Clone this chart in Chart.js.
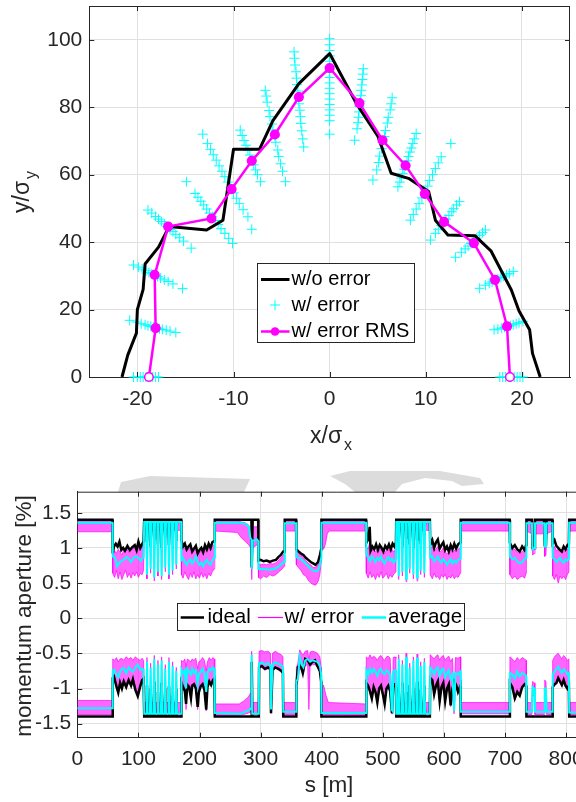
<!DOCTYPE html>
<html>
<head>
<meta charset="utf-8">
<script src="https://cdn.jsdelivr.net/npm/chart.js@4.4.0/dist/chart.umd.min.js"></script>
<style>
  html, body { margin: 0; padding: 0; background: #fff; overflow: hidden; width: 576px; height: 802px; }
  #top { position: absolute; left: 0; top: 0; }
  #bot { position: absolute; left: 0; top: 440px; }
</style>
</head>
<body>
<canvas id="top" width="576" height="460"></canvas>
<canvas id="bot" width="598" height="362"></canvas>
<script>
// ---------- top plot: dynamic aperture ----------
const xTicksTop = [-20, -10, 0, 10, 20];
const yTicksTop = [0, 20, 40, 60, 80, 100];

// w/o error (black)
const daX = [-21.6, -21.0, -20.1, -20.0, -19.4, -19.2, -17.8, -16.7, -12.8, -11.1, -10.0, -7.3, -5.9, -3.2, 0, 2.8, 5.0, 6.4, 8.2, 9.5, 10.3, 11.0, 12.3, 15.1, 16.8, 18.0, 18.9, 19.7, 20.8, 21.1, 21.9];
const daY = [0, 6.5, 13, 20, 26, 33.5, 38.5, 44.6, 43.6, 46.5, 67.5, 67.5, 76, 87, 95.9, 81, 71.5, 60.4, 58.9, 56.5, 55, 46.5, 42.1, 41.9, 37.3, 30.7, 25.8, 19.6, 14, 7, 0];

// w/ error RMS (magenta)
const rmsX = [-18.8, -18.1, -18.2, -16.8, -12.3, -10.2, -8.1, -5.7, -3.2, 0, 3.1, 5.5, 7.9, 9.9, 11.9, 15.0, 17.2, 18.45, 18.75];
const rmsY = [0, 14.5, 30.3, 44.6, 47, 55.7, 64.1, 71.9, 83, 91.6, 81.2, 70.2, 62.7, 54.3, 46, 39.7, 28.8, 15, 0];

// w/ error seeds (cyan +), one line per ray
const errPts = [
  [-20.4,0],[-20.0,0],[-19.7,0],[-19.4,0],[-19.1,0],[-18.9,0],[-18.6,0],[-18.4,0],[-18.1,0],[-17.8,0],
  [-20.8,16.8],[-20.1,16.3],[-19.6,15.8],[-19.2,15.5],[-18.9,15.2],[-18.6,15.0],[-18.3,14.8],[-18.0,14.6],[-17.7,14.3],[-17.4,14.1],[-17.0,13.9],[-16.6,13.6],[-16.0,13.2],
  [-20.4,33.2],[-19.9,32.6],[-19.5,32.0],[-19.1,31.5],[-18.8,31.0],[-18.5,30.6],[-18.2,30.2],[-17.9,29.8],[-17.6,29.3],[-17.2,28.8],[-16.8,28.3],[-16.3,27.6],[-15.3,26.2],
  [-18.9,49.5],[-18.5,48.6],[-18.1,47.6],[-17.8,46.8],[-17.5,46.1],[-17.2,45.4],[-16.9,44.6],[-16.6,43.8],[-16.3,43.1],[-16.0,42.3],[-15.6,41.3],[-15.2,40.3],[-14.4,38.2],
  [-14.9,57.9],[-14.0,54.4],[-13.7,53.3],[-13.4,52.1],[-13.1,51.0],[-12.8,49.8],[-12.5,48.6],[-12.2,47.5],[-11.9,46.4],[-11.6,45.2],[-11.3,44.0],[-10.9,42.6],[-10.5,41.1],[-10.1,39.6],
  [-13.2,72.0],[-12.7,69.2],[-12.4,67.5],[-12.1,65.9],[-11.8,64.3],[-11.5,62.6],[-11.2,61.0],[-10.9,59.4],[-10.6,57.8],[-10.3,56.2],[-10.0,54.6],[-9.7,53.0],[-9.4,51.4],[-9.0,49.6],[-8.5,47.5],[-8.1,43.8],
  [-9.3,73.2],[-9.1,71.6],[-8.9,70.1],[-8.7,68.7],[-8.5,67.2],[-8.3,65.8],[-8.1,64.3],[-7.9,62.9],[-7.7,61.4],[-7.5,60.0],[-7.2,57.9],
  [-6.7,85.0],[-6.6,83.3],[-6.5,81.5],[-6.3,79.0],[-6.2,77.2],[-6.0,75.0],[-5.9,73.2],[-5.7,71.5],[-5.6,69.6],[-5.4,67.3],[-5.3,65.4],[-5.1,63.2],[-4.9,61.0],[-4.6,57.9],
  [-3.7,96.4],[-3.65,94.5],[-3.6,92.5],[-3.5,90.5],[-3.45,88.6],[-3.4,86.7],[-3.3,84.8],[-3.25,82.9],[-3.2,81.0],[-3.1,79.1],[-3.05,77.2],[-3.0,75.2],[-2.9,73.0],[-2.8,70.6],[-2.7,68.2],
  [0,100.3],[0,98.5],[0,96.8],[0,95.2],[0,93.6],[0,92.0],[0,90.4],[0,88.8],[0,87.2],[0,85.6],[0,84.0],[0,82.4],[0,80.8],[0,79.2],[0,77.6],[0,76.0],[0,72.0],
  [3.5,91.4],[3.45,89.8],[3.4,88.2],[3.35,86.6],[3.3,85.0],[3.25,83.4],[3.2,81.8],[3.1,80.2],[3.05,78.6],[3.0,77.0],[2.95,75.4],[2.85,73.6],[2.6,70.2],
  [6.5,82.8],[6.4,81.0],[6.3,79.2],[6.1,77.0],[6.0,75.3],[5.8,73.1],[5.7,71.3],[5.5,69.6],[5.4,67.7],[5.2,65.5],[5.1,63.6],[4.9,61.4],[4.5,58.4],
  [9.0,72.2],[8.8,70.6],[8.65,69.2],[8.5,67.9],[8.35,66.7],[8.2,65.4],[8.05,64.1],[7.9,62.8],[7.75,61.6],[7.6,60.3],[7.45,59.0],[7.3,57.8],[7.1,56.4],
  [12.6,69.2],[11.6,65.3],[11.3,63.5],[11.0,61.8],[10.7,60.0],[10.4,58.3],[10.2,56.6],[9.9,54.9],[9.6,53.1],[9.3,51.4],[9.0,49.8],[8.7,48.2],[8.4,46.5],
  [13.5,52.0],[13.2,51.0],[12.9,49.9],[12.7,49.0],[12.4,47.9],[12.1,46.8],[11.9,46.0],[11.6,44.9],[11.3,43.8],[11.0,42.6],[10.5,40.6],
  [16.2,43.6],[15.9,42.8],[15.6,42.0],[15.3,41.2],[15.0,40.4],[14.7,39.6],[14.4,38.8],[14.1,38.0],[13.7,37.0],[13.1,35.5],
  [19.1,31.3],[18.7,30.7],[18.4,30.3],[18.1,29.9],[17.8,29.5],[17.5,29.1],[17.2,28.7],[16.9,28.2],[16.6,27.8],[16.2,27.2],[15.6,26.3],
  [20.1,16.5],[19.7,16.1],[19.4,15.8],[19.1,15.5],[18.8,15.2],[18.5,15.0],[18.2,14.7],[17.9,14.5],[17.5,14.2],[17.1,14.0],
  [17.7,0],[18.0,0],[18.3,0],[18.6,0],[18.9,0],[19.2,0],[19.5,0],[19.8,0],[20.1,0]
];

// ---------- bottom plot: momentum aperture ----------
const sTicks = [0, 100, 200, 300, 400, 500, 600, 700, 800];
const maTicks = [-1.5, -1, -0.5, 0, 0.5, 1, 1.5];

// ideal, positive side [s, %]
const idealPos = [
  [0,1.40],[57.5,1.40],
  [58,0.92],[60,1.02],[63,1.06],[66,1.02],[69,1.09],[72,0.97],[75,1.0],[78,0.96],[82,1.03],[86,0.97],[90,1.01],[94,1.04],[97,0.97],[100,1.09],[103,1.0],[106,1.05],[108.5,1.10],
  [109.5,1.40],[112.8,1.40],[114,1.08],[115.2,1.40],[118.8,1.40],[120,1.02],[121.2,1.40],[124.8,1.40],[126,1.12],[127.2,1.40],[130.8,1.40],[132,1.05],[133.2,1.40],[136.8,1.40],[138,1.00],[139.2,1.40],[142.8,1.40],[144,1.15],[145.2,1.40],[148.8,1.40],[150,1.04],[151.2,1.40],[154.8,1.40],[156,1.20],[157.2,1.40],[160.8,1.40],[162,1.10],[163.2,1.40],[170,1.40],
  [170.5,1.11],[173,1.02],[176,1.06],[179,0.98],[182,1.02],[185,1.05],[188,0.95],[191,0.99],[194,1.03],[197,0.92],[200,0.97],[203,1.0],[206,0.94],[209,1.04],[212,0.98],[215,1.06],[218,1.0],[221,1.08],[224,1.10],
  [225,1.40],[285,1.40],[285.5,0.72],[287,1.40],[296,1.40],
  [296.5,0.82],[300,0.83],[305,0.81],[310,0.82],[315,0.80],[320,0.82],[325,0.83],[329,0.87],[333,0.90],[337,0.95],[339,0.95],
  [339.5,1.40],[358,1.40],
  [358.5,0.98],[362,0.95],[366,0.92],[370,0.9],[374,0.86],[378,0.83],[382,0.8],[386,0.78],[390,0.76],[394,0.8],[397,0.9],[399,0.98],
  [399.5,1.40],[472.5,1.40],
  [473,1.07],[476,1.12],[478.5,1.30],[480,0.96],[483,1.02],[486,0.98],[489,1.05],[492,0.97],[495,1.04],[498,1.0],[501,0.95],[504,1.03],[507,0.99],[510,1.05],[513,0.98],[516,1.06],[519,1.02],[521.5,1.08],
  [522,1.40],[524.8,1.40],[526,1.10],[527.2,1.40],[530.8,1.40],[532,1.02],[533.2,1.40],[536.8,1.40],[538,1.15],[539.2,1.40],[542.8,1.40],[544,1.05],[545.2,1.40],[548.8,1.40],[550,1.00],[551.2,1.40],[554.8,1.40],[556,1.12],[557.2,1.40],[560.8,1.40],[562,1.06],[563.2,1.40],[566.8,1.40],[568,1.18],[569.2,1.40],[577,1.40],
  [577.5,1.04],[581,1.11],[584,1.0],[587,1.08],[590,1.12],[593,0.99],[596,1.04],[599,1.08],[602,0.97],[605,1.02],[608,0.95],[611,1.04],[614,0.98],[617,1.06],[620,0.99],[623,1.05],[627,1.08],
  [627.5,1.40],[707.5,1.40],
  [708,1.07],[712,1.0],[716,1.04],[720,0.98],[724,0.95],[728,1.02],[732,0.97],[734.5,1.04],
  [735,1.40],[744,1.40],[745,1.0],[748,1.0],[749,1.40],[764,1.40],[765,1.04],[767,1.04],[768,1.40],[777.5,1.40],
  [778,1.07],[781,1.11],[784,1.03],[787,1.0],[790,0.97],[793,0.95],[796,1.02],[799,0.98],[802,1.04],[804.5,1.06],
  [805,1.40],[851,1.40]
];

// average, positive side
const avgPos = [
  [0,1.36],[57.5,1.36],
  [58,0.88],[62,0.86],[65,0.74],[68,0.78],[72,0.82],[76,0.83],[80,0.87],[84,0.85],[88,0.80],[92,0.86],[96,0.88],[100,0.86],[104,0.82],[108.5,0.87],
  [109.5,1.37],[112.8,1.37],[114,0.62],[115.2,1.37],[118.8,1.37],[120,0.70],[121.2,1.37],[124.8,1.37],[126,0.58],[127.2,1.37],[130.8,1.37],[132,0.66],[133.2,1.37],[136.8,1.37],[138,0.60],[139.2,1.37],[142.8,1.37],[144,0.72],[145.2,1.37],[148.8,1.37],[150,0.62],[151.2,1.37],[154.8,1.37],[156,0.68],[157.2,1.37],[160.8,1.37],[162,0.76],[163.2,1.37],[170,1.37],
  [170.5,0.83],[173,0.86],[176,0.80],[179,0.76],[182,0.81],[185,0.84],[188,0.78],[191,0.82],[194,0.88],[197,0.80],[200,0.76],[203,0.79],[206,0.74],[209,0.80],[212,0.83],[215,0.78],[218,0.76],[221,0.82],[224,0.86],
  [225,1.36],[265,1.36],[275,1.34],[281,1.30],[283,1.15],[285,1.12],[285.7,0.70],[287,1.10],[294,1.12],[296,1.10],
  [296.5,0.70],[305,0.70],[315,0.69],[325,0.71],[330,0.74],[335,0.78],[339,0.80],
  [339.5,1.35],[358,1.35],
  [358.5,0.87],[364,0.85],[370,0.81],[376,0.76],[382,0.70],[388,0.67],[393,0.67],[396,0.72],[398,0.80],[399,0.85],
  [399.5,1.36],[472.5,1.36],
  [473,0.91],[476,0.86],[479,0.81],[482,0.88],[485,0.85],[488,0.80],[491,0.86],[494,0.83],[497,0.88],[500,0.81],[503,0.78],[506,0.84],[509,0.87],[512,0.82],[515,0.85],[518,0.79],[521.5,0.84],
  [522,1.37],[524.8,1.37],[526,0.60],[527.2,1.37],[530.8,1.37],[532,0.66],[533.2,1.37],[536.8,1.37],[538,0.56],[539.2,1.37],[542.8,1.37],[544,0.70],[545.2,1.37],[548.8,1.37],[550,0.62],[551.2,1.37],[554.8,1.37],[556,0.58],[557.2,1.37],[560.8,1.37],[562,0.68],[563.2,1.37],[566.8,1.37],[568,0.64],[569.2,1.37],[577,1.37],
  [577.5,0.86],[581,0.88],[584,0.81],[587,0.84],[590,0.88],[593,0.82],[596,0.79],[599,0.84],[602,0.81],[605,0.76],[608,0.80],[611,0.84],[614,0.78],[617,0.82],[620,0.79],[623,0.83],[627,0.85],
  [627.5,1.36],[707.5,1.36],
  [708,0.88],[712,0.84],[716,0.86],[720,0.81],[724,0.78],[728,0.80],[732,0.84],[734.5,0.86],
  [735,1.35],[744,1.35],[745,0.98],[748,1.0],[749,1.35],[764,1.35],[765,1.02],[767,1.02],[768,1.35],[777.5,1.35],
  [778,0.86],[781,0.84],[784,0.80],[787,0.83],[790,0.86],[793,0.81],[796,0.79],[799,0.84],[802,0.82],[804.5,0.85],
  [805,1.36],[851,1.36]
];

// w/ error seeds, positive side: [s, upper, lower]
const errPos = [
  [0,1.385,1.23],[57.5,1.385,1.23],
  [58,0.90,0.64],[61,0.96,0.58],[64,0.92,0.68],[67,0.98,0.56],[70,0.94,0.66],[73,0.90,0.55],[76,0.97,0.62],[79,0.95,0.68],[82,0.98,0.58],[85,0.93,0.64],[88,0.96,0.57],[91,0.99,0.65],[94,1.0,0.60],[97,0.94,0.66],[100,1.02,0.58],[103,0.96,0.64],[106,1.0,0.62],[108.5,1.05,0.68],
  [109.5,1.385,1.25],[112.8,1.385,1.25],[114,1.0,0.56],[115.2,1.385,1.25],[118.8,1.385,1.25],[120,0.95,0.64],[121.2,1.385,1.25],[124.8,1.385,1.25],[126,1.05,0.53],[127.2,1.385,1.25],[130.8,1.385,1.25],[132,0.98,0.60],[133.2,1.385,1.25],[136.8,1.385,1.25],[138,0.94,0.55],[139.2,1.385,1.25],[142.8,1.385,1.25],[144,1.08,0.66],[145.2,1.385,1.25],[148.8,1.385,1.25],[150,0.97,0.56],[151.2,1.385,1.25],[154.8,1.385,1.25],[156,1.12,0.62],[157.2,1.385,1.25],[160.8,1.385,1.25],[162,1.03,0.70],[163.2,1.385,1.25],[170,1.385,1.25],
  [170.5,1.05,0.62],[173,0.98,0.57],[176,1.0,0.66],[179,0.95,0.60],[182,0.98,0.55],[185,1.0,0.64],[188,0.92,0.58],[191,0.96,0.66],[194,0.99,0.56],[197,0.9,0.62],[200,0.94,0.57],[203,0.97,0.65],[206,0.9,0.58],[209,0.99,0.63],[212,0.95,0.56],[215,1.0,0.64],[218,0.96,0.60],[221,1.02,0.66],[224,1.05,0.70],
  [225,1.385,1.24],[262,1.385,1.22],[268,1.37,1.15],[274,1.36,1.10],[280,1.33,1.05],[284,1.25,1.0],[285.5,1.0,0.55],[287,1.3,1.0],[295,1.3,1.05],[296,1.2,0.9],
  [296.5,0.78,0.58],[300,0.76,0.56],[305,0.77,0.60],[310,0.76,0.58],[315,0.78,0.62],[320,0.77,0.60],[325,0.79,0.62],[330,0.83,0.66],[335,0.88,0.70],[339,0.92,0.74],
  [339.5,1.385,1.24],[358,1.385,1.24],
  [358.5,0.95,0.76],[362,0.92,0.72],[366,0.9,0.68],[370,0.86,0.62],[374,0.82,0.60],[378,0.78,0.54],[382,0.76,0.50],[386,0.72,0.48],[390,0.72,0.47],[394,0.76,0.52],[397,0.85,0.62],[399,0.95,0.8],
  [399.5,1.385,1.1],[403,1.385,0.98],[406,1.385,1.05],[409,1.385,1.2],[412,1.385,1.24],[472.5,1.385,1.24],
  [473,1.02,0.64],[476,0.98,0.57],[479,1.1,0.66],[482,0.96,0.58],[485,0.98,0.62],[488,0.94,0.55],[491,0.98,0.63],[494,0.96,0.58],[497,1.0,0.66],[500,0.93,0.57],[503,0.92,0.60],[506,0.97,0.64],[509,1.0,0.56],[512,0.95,0.62],[515,0.98,0.58],[518,0.94,0.63],[521.5,1.0,0.66],
  [522,1.385,1.25],[524.8,1.385,1.25],[526,1.02,0.55],[527.2,1.385,1.25],[530.8,1.385,1.25],[532,0.96,0.60],[533.2,1.385,1.25],[536.8,1.385,1.25],[538,1.08,0.52],[539.2,1.385,1.25],[542.8,1.385,1.25],[544,0.98,0.64],[545.2,1.385,1.25],[548.8,1.385,1.25],[550,0.94,0.56],[551.2,1.385,1.25],[554.8,1.385,1.25],[556,1.05,0.53],[557.2,1.385,1.25],[560.8,1.385,1.25],[562,0.99,0.62],[563.2,1.385,1.25],[566.8,1.385,1.25],[568,1.10,0.58],[569.2,1.385,1.25],[577,1.385,1.25],
  [577.5,1.0,0.62],[581,1.02,0.56],[584,0.96,0.64],[587,0.98,0.58],[590,1.02,0.60],[593,0.94,0.55],[596,0.96,0.62],[599,1.0,0.58],[602,0.94,0.63],[605,0.92,0.55],[608,0.94,0.60],[611,0.98,0.57],[614,0.93,0.62],[617,0.97,0.56],[620,0.94,0.6],[623,0.98,0.58],[627,1.0,0.64],
  [627.5,1.385,1.24],[707.5,1.385,1.24],
  [708,1.0,0.62],[712,0.97,0.56],[716,0.98,0.6],[720,0.94,0.55],[724,0.92,0.58],[728,0.95,0.6],[732,0.97,0.57],[734.5,1.0,0.64],
  [735,1.385,1.24],[744,1.385,1.2],[745,1.0,0.9],[748,1.0,0.92],[749,1.385,1.2],[764,1.385,1.2],[765,1.0,0.88],[767,1.0,0.9],[768,1.385,1.2],[777.5,1.385,1.24],
  [778,1.0,0.6],[781,1.02,0.55],[784,0.96,0.62],[787,0.98,0.5],[790,0.96,0.6],[793,0.92,0.56],[796,0.95,0.6],[799,0.97,0.55],[802,0.98,0.62],[804.5,1.0,0.66],
  [805,1.385,1.24],[851,1.385,1.24]
];

// ideal, negative side
const idealNeg = [
  [0,-1.40],[57.5,-1.40],
  [58,-0.85],[60,-0.83],[64,-0.97],[67,-1.06],[70,-0.92],[73,-1.0],[76,-0.90],[80,-0.98],[84,-0.88],[88,-0.96],[91,-0.87],[95,-1.02],[99,-1.11],[103,-0.97],[106,-0.88],[108.5,-0.86],
  [109.5,-1.40],[112.8,-1.40],[114,-0.95],[115.2,-1.40],[118.8,-1.40],[120,-1.00],[121.2,-1.40],[124.8,-1.40],[126,-0.90],[127.2,-1.40],[130.8,-1.40],[132,-1.05],[133.2,-1.40],[136.8,-1.40],[138,-0.92],[139.2,-1.40],[142.8,-1.40],[144,-1.00],[145.2,-1.40],[148.8,-1.40],[150,-0.96],[151.2,-1.40],[154.8,-1.40],[156,-1.10],[157.2,-1.40],[160.8,-1.40],[162,-1.00],[163.2,-1.40],[170,-1.40],
  [170.5,-0.92],[173,-0.98],[176,-1.04],[178,-1.22],[180,-0.95],[183,-0.98],[186,-1.14],[188,-0.96],[191,-0.94],[194,-1.0],[197,-1.26],[199,-1.05],[202,-0.97],[205,-0.94],[208,-1.02],[211,-1.3],[213,-0.98],[216,-0.90],[219,-0.95],[222,-0.88],[224,-0.86],
  [225,-1.40],[285,-1.40],[285.5,-0.62],[286.5,-1.40],[297,-1.40],
  [297.5,-0.70],[302,-0.68],[307,-0.72],[312,-0.70],[316,-0.72],[317,-1.35],[318.5,-1.35],[319.5,-0.74],[324,-0.70],[329,-0.72],[334,-0.75],[336.5,-0.78],
  [337,-1.40],[358,-1.40],
  [358.5,-0.95],[361,-0.70],[365,-0.65],[369,-0.78],[373,-0.58],[377,-0.60],[381,-0.66],[385,-0.62],[389,-0.60],[393,-0.68],[397,-0.75],[399,-0.9],
  [399.5,-1.40],[472.5,-1.40],
  [473,-0.92],[476,-0.96],[479,-1.04],[482,-1.14],[485,-0.98],[488,-1.05],[491,-1.2],[494,-1.0],[497,-0.96],[500,-1.08],[503,-1.22],[506,-1.0],[509,-0.96],[512,-1.04],[515,-1.35],[517,-0.98],[520,-0.94],[521.5,-0.92],
  [522,-1.40],[524.8,-1.40],[526,-0.98],[527.2,-1.40],[530.8,-1.40],[532,-0.92],[533.2,-1.40],[536.8,-1.40],[538,-1.05],[539.2,-1.40],[542.8,-1.40],[544,-0.95],[545.2,-1.40],[548.8,-1.40],[550,-1.00],[551.2,-1.40],[554.8,-1.40],[556,-0.90],[557.2,-1.40],[560.8,-1.40],[562,-1.02],[563.2,-1.40],[566.8,-1.40],[568,-0.96],[569.2,-1.40],[577,-1.40],
  [577.5,-0.85],[581,-0.88],[584,-1.08],[587,-0.96],[590,-0.9],[593,-1.18],[596,-0.98],[599,-0.92],[602,-1.18],[605,-1.0],[608,-0.94],[611,-1.24],[614,-1.0],[617,-0.9],[620,-0.95],[623,-1.05],[627,-0.96],
  [627.5,-1.40],[707.5,-1.40],
  [708,-0.92],[712,-0.98],[716,-1.14],[720,-1.05],[724,-1.1],[728,-0.98],[732,-0.94],[734.5,-0.96],
  [735,-1.40],[777.5,-1.40],
  [778,-0.98],[781,-0.94],[784,-0.92],[787,-0.85],[790,-0.9],[793,-0.95],[796,-0.88],[799,-0.96],[802,-1.0],[804.5,-0.96],
  [805,-1.40],[851,-1.40]
];

// average, negative side
const avgNeg = [
  [0,-1.28],[57.5,-1.28],
  [58,-0.74],[60,-0.73],[64,-0.80],[67,-0.84],[70,-0.76],[73,-0.72],[76,-0.71],[80,-0.78],[84,-0.70],[88,-0.74],[91,-0.76],[95,-0.70],[99,-0.66],[103,-0.74],[106,-0.72],[108.5,-0.73],
  [109.5,-1.36],[112.8,-1.36],[114,-0.62],[115.2,-1.36],[118.8,-1.36],[120,-0.70],[121.2,-1.36],[124.8,-1.36],[126,-0.58],[127.2,-1.36],[130.8,-1.36],[132,-0.66],[133.2,-1.36],[136.8,-1.36],[138,-0.60],[139.2,-1.36],[142.8,-1.36],[144,-0.72],[145.2,-1.36],[148.8,-1.36],[150,-0.62],[151.2,-1.36],[154.8,-1.36],[156,-0.68],[157.2,-1.36],[160.8,-1.36],[162,-0.75],[163.2,-1.36],[170,-1.36],
  [170.5,-0.73],[173,-0.78],[176,-0.74],[178,-1.0],[180,-0.72],[183,-0.76],[186,-0.80],[188,-0.72],[191,-0.78],[194,-0.74],[197,-0.95],[199,-0.80],[202,-0.76],[205,-0.72],[208,-0.79],[211,-1.05],[213,-0.78],[216,-0.72],[219,-0.74],[222,-0.7],[224,-0.72],
  [225,-1.35],[268,-1.36],[275,-1.33],[282,-1.30],[284.5,-1.28],[285.3,-0.52],[286.3,-1.36],[297,-1.36],
  [297.5,-0.64],[302,-0.63],[307,-0.66],[312,-0.64],[316,-0.67],[317,-1.3],[318.5,-1.3],[319.5,-0.66],[324,-0.63],[329,-0.65],[334,-0.67],[336.5,-0.70],
  [337,-1.33],[358,-1.33],
  [358.5,-0.90],[361,-0.86],[364,-0.55],[367,-0.66],[370,-0.70],[373,-0.60],[377,-0.58],[381,-0.62],[385,-0.60],[389,-0.61],[393,-0.62],[397,-0.68],[399,-0.80],
  [399.5,-1.35],[472.5,-1.35],
  [473,-0.74],[476,-0.80],[479,-0.72],[482,-0.78],[485,-0.72],[488,-0.76],[491,-0.82],[494,-0.74],[497,-0.72],[500,-0.78],[503,-0.80],[506,-0.74],[509,-0.76],[512,-0.80],[514.5,-1.30],[516,-1.32],[517,-0.76],[520,-0.74],[521.5,-0.73],
  [522,-1.36],[524.8,-1.36],[526,-0.58],[527.2,-1.36],[530.8,-1.36],[532,-0.66],[533.2,-1.36],[536.8,-1.36],[538,-0.55],[539.2,-1.36],[542.8,-1.36],[544,-0.70],[545.2,-1.36],[548.8,-1.36],[550,-0.60],[551.2,-1.36],[554.8,-1.36],[556,-0.56],[557.2,-1.36],[560.8,-1.36],[562,-0.68],[563.2,-1.36],[566.8,-1.36],[568,-0.62],[569.2,-1.36],[577,-1.36],
  [577.5,-0.70],[581,-0.74],[584,-0.80],[587,-0.72],[590,-0.70],[593,-0.82],[596,-0.74],[599,-0.72],[602,-0.84],[605,-0.78],[608,-0.74],[611,-0.86],[614,-0.80],[616.5,-1.32],[618,-1.32],[619,-0.78],[623,-0.80],[627,-0.76],
  [627.5,-1.33],[707.5,-1.33],
  [708,-0.78],[712,-0.80],[716,-0.86],[720,-0.76],[724,-0.83],[728,-0.78],[732,-0.80],[734.5,-0.82],
  [735,-1.33],[744,-1.33],[745,-0.98],[748,-1.0],[749,-1.33],[764,-1.33],[765,-1.0],[767,-1.0],[768,-1.33],[777.5,-1.33],
  [778,-0.80],[781,-0.76],[784,-0.72],[787,-0.69],[790,-0.74],[793,-0.78],[796,-0.73],[799,-0.75],[802,-0.80],[804.5,-0.78],
  [805,-1.34],[851,-1.34]
];

// w/ error seeds, negative side: [s, upper, lower]
const errNeg = [
  [0,-1.17,-1.37],[57.5,-1.17,-1.37],
  [58,-0.58,-0.86],[61,-0.60,-0.84],[64,-0.56,-0.92],[67,-0.62,-1.0],[70,-0.58,-0.9],[73,-0.57,-0.94],[76,-0.6,-0.86],[80,-0.55,-0.94],[84,-0.58,-0.86],[88,-0.56,-0.94],[91,-0.6,-0.86],[95,-0.55,-0.98],[99,-0.58,-1.05],[103,-0.60,-0.94],[106,-0.57,-0.86],[108.5,-0.6,-0.84],
  [109.5,-1.20,-1.38],[112.8,-1.20,-1.38],[114,-0.56,-1.0],[115.2,-1.20,-1.38],[118.8,-1.20,-1.38],[120,-0.64,-1.05],[121.2,-1.20,-1.38],[124.8,-1.20,-1.38],[126,-0.53,-0.95],[127.2,-1.20,-1.38],[130.8,-1.20,-1.38],[132,-0.60,-1.1],[133.2,-1.20,-1.38],[136.8,-1.20,-1.38],[138,-0.55,-0.97],[139.2,-1.20,-1.38],[142.8,-1.20,-1.38],[144,-0.66,-1.05],[145.2,-1.20,-1.38],[148.8,-1.20,-1.38],[150,-0.56,-1.0],[151.2,-1.20,-1.38],[154.8,-1.20,-1.38],[156,-0.62,-1.15],[157.2,-1.20,-1.38],[160.8,-1.20,-1.38],[162,-0.70,-1.05],[163.2,-1.20,-1.38],[170,-1.20,-1.38],
  [170.5,-0.6,-0.88],[173,-0.62,-0.94],[176,-0.58,-1.0],[178,-0.7,-1.3],[180,-0.58,-0.92],[183,-0.6,-0.94],[186,-0.62,-1.1],[188,-0.58,-0.94],[191,-0.6,-0.92],[194,-0.57,-0.98],[197,-0.72,-1.3],[199,-0.62,-1.0],[202,-0.6,-0.94],[205,-0.56,-0.92],[208,-0.6,-1.0],[211,-0.75,-1.32],[213,-0.62,-0.96],[216,-0.56,-0.88],[219,-0.6,-0.92],[222,-0.56,-0.86],[224,-0.58,-0.85],
  [225,-1.22,-1.38],[265,-1.22,-1.38],[272,-1.18,-1.37],[280,-1.12,-1.35],[284.5,-1.05,-1.33],[285.3,-0.47,-0.9],[286.3,-1.2,-1.37],[297,-1.2,-1.37],
  [297.5,-0.47,-0.72],[302,-0.46,-0.70],[307,-0.48,-0.74],[312,-0.47,-0.72],[316,-0.5,-0.74],[317,-1.1,-1.36],[318.5,-1.1,-1.36],[319.5,-0.5,-0.72],[324,-0.47,-0.7],[329,-0.5,-0.74],[334,-0.52,-0.76],[336.5,-0.55,-0.8],
  [337,-1.2,-1.37],[358,-1.2,-1.37],
  [358.5,-0.7,-0.96],[361,-0.64,-0.9],[364,-0.45,-0.7],[367,-0.5,-0.75],[370,-0.52,-0.8],[373,-0.47,-0.68],[377,-0.46,-0.66],[379,-0.6,-1.3],[381,-0.48,-0.68],[385,-0.47,-0.66],[389,-0.48,-0.66],[393,-0.5,-0.7],[397,-0.55,-0.78],[399,-0.7,-0.92],
  [399.5,-1.0,-1.37],[403,-0.95,-1.37],[407,-1.1,-1.37],[411,-1.2,-1.37],[472.5,-1.22,-1.38],
  [473,-0.55,-0.94],[476,-0.58,-0.98],[479,-0.52,-1.06],[482,-0.57,-1.16],[485,-0.54,-1.0],[488,-0.56,-1.06],[491,-0.6,-1.22],[494,-0.55,-1.02],[497,-0.53,-0.98],[500,-0.57,-1.1],[503,-0.6,-1.24],[506,-0.55,-1.02],[509,-0.54,-0.98],[512,-0.57,-1.06],[514.5,-1.1,-1.36],[516,-1.1,-1.36],[517,-0.56,-1.0],[520,-0.55,-0.96],[521.5,-0.57,-0.94],
  [522,-1.20,-1.38],[524.8,-1.20,-1.38],[526,-0.52,-1.02],[527.2,-1.20,-1.38],[530.8,-1.20,-1.38],[532,-0.60,-0.97],[533.2,-1.20,-1.38],[536.8,-1.20,-1.38],[538,-0.50,-1.1],[539.2,-1.20,-1.38],[542.8,-1.20,-1.38],[544,-0.64,-1.0],[545.2,-1.20,-1.38],[548.8,-1.20,-1.38],[550,-0.55,-1.05],[551.2,-1.20,-1.38],[554.8,-1.20,-1.38],[556,-0.51,-0.95],[557.2,-1.20,-1.38],[560.8,-1.20,-1.38],[562,-0.62,-1.07],[563.2,-1.20,-1.38],[566.8,-1.20,-1.38],[568,-0.57,-1.0],[569.2,-1.20,-1.38],[577,-1.20,-1.38],
  [577.5,-0.52,-0.88],[581,-0.55,-0.9],[584,-0.58,-1.1],[587,-0.54,-0.98],[590,-0.52,-0.92],[593,-0.6,-1.2],[596,-0.55,-1.0],[599,-0.53,-0.94],[602,-0.6,-1.2],[605,-0.56,-1.02],[608,-0.54,-0.96],[611,-0.62,-1.26],[614,-0.57,-1.02],[616.5,-1.1,-1.36],[618,-1.1,-1.36],[619,-0.56,-0.94],[623,-0.57,-1.06],[627,-0.55,-0.98],
  [627.5,-1.2,-1.36],[707.5,-1.2,-1.36],
  [708,-0.55,-0.94],[712,-0.58,-1.0],[716,-0.62,-1.16],[720,-0.56,-1.06],[724,-0.6,-1.12],[728,-0.56,-1.0],[732,-0.58,-0.96],[734.5,-0.6,-0.98],
  [735,-1.2,-1.37],[744,-1.2,-1.37],[745,-0.9,-1.1],[748,-0.92,-1.1],[749,-1.2,-1.37],[764,-1.2,-1.37],[765,-0.88,-1.1],[767,-0.9,-1.1],[768,-1.2,-1.37],[777.5,-1.2,-1.37],
  [778,-0.6,-1.0],[781,-0.55,-0.96],[784,-0.52,-0.94],[787,-0.5,-0.88],[790,-0.54,-0.92],[793,-0.58,-0.97],[796,-0.53,-0.9],[799,-0.56,-0.98],[802,-0.6,-1.02],[804.5,-0.58,-0.98],
  [805,-1.2,-1.37],[851,-1.2,-1.37]
];

// ---------- styling ----------
const FONT = '"Liberation Sans", Arial, Helvetica, sans-serif';
const AXIS = '#262626';
const GRID = '#e0e0e0';
const MAG = '#ff00ff';
const CYAN = '#00ffff';
const BOT_TOP = 440;   // page offset of the lower canvas

const xy = (xs, ys) => xs.map((x, i) => ({ x: x, y: ys[i] }));
const pairs = (arr, k) => arr.map(p => ({ x: p[0], y: p[k] }));
// keep chart.js from reserving room for edge labels
const noPad = s => { s.paddingTop = 0; s.paddingBottom = 0; s.paddingLeft = 0; s.paddingRight = 0; };

function frame(chart) {
  const ctx = chart.ctx, a = chart.chartArea, xs = chart.scales.x, ys = chart.scales.y;
  ctx.strokeStyle = AXIS;
  ctx.lineWidth = 1;
  ctx.beginPath();
  ctx.moveTo(a.left, a.top + 0.5); ctx.lineTo(a.right, a.top + 0.5);
  ctx.moveTo(a.right - 0.5, a.top); ctx.lineTo(a.right - 0.5, a.bottom);
  xs.ticks.forEach(t => {
    const p = Math.round(xs.getPixelForValue(t.value)) + 0.5;
    ctx.moveTo(p, a.bottom); ctx.lineTo(p, a.bottom - 5);
    ctx.moveTo(p, a.top); ctx.lineTo(p, a.top + 5);
  });
  ys.ticks.forEach(t => {
    const p = Math.round(ys.getPixelForValue(t.value)) + 0.5;
    ctx.moveTo(a.left, p); ctx.lineTo(a.left + 5, p);
    ctx.moveTo(a.right, p); ctx.lineTo(a.right - 5, p);
  });
  ctx.stroke();
}

function seg(ctx, x1, y1, x2, y2) {
  ctx.beginPath(); ctx.moveTo(x1, y1); ctx.lineTo(x2, y2); ctx.stroke();
}

const topDecor = {
  id: 'topDecor',
  afterDraw(chart) {
    const ctx = chart.ctx;
    ctx.save();
    frame(chart);

    // axis titles
    ctx.fillStyle = AXIS;
    ctx.textAlign = 'left';
    ctx.textBaseline = 'alphabetic';
    ctx.font = '23px ' + FONT;
    const wx = ctx.measureText('x/σ').width;
    ctx.fillText('x/σ', 310, 443);
    ctx.font = '16px ' + FONT;
    ctx.fillText('x', 310 + wx + 2, 449.5);

    ctx.save();
    ctx.translate(29, 213);
    ctx.rotate(-Math.PI / 2);
    ctx.font = '23px ' + FONT;
    const wy = ctx.measureText('y/σ').width;
    ctx.fillText('y/σ', 0, 0);
    ctx.font = '16px ' + FONT;
    ctx.fillText('y', wy + 2, 6.5);
    ctx.restore();

    // legend
    ctx.fillStyle = '#fff';
    ctx.fillRect(257.5, 263.5, 157, 79);
    ctx.strokeStyle = AXIS; ctx.lineWidth = 1;
    ctx.strokeRect(257.5, 263.5, 157, 79);
    ctx.strokeStyle = '#000'; ctx.lineWidth = 3;
    seg(ctx, 261, 279.5, 289.5, 279.5);
    ctx.strokeStyle = CYAN; ctx.lineWidth = 1;
    seg(ctx, 270, 305, 280, 305); seg(ctx, 275, 300, 275, 310);
    ctx.strokeStyle = MAG; ctx.lineWidth = 2.5;
    seg(ctx, 261, 331.5, 289.5, 331.5);
    ctx.fillStyle = MAG;
    ctx.beginPath(); ctx.arc(275, 331.5, 4.3, 0, Math.PI * 2); ctx.fill();
    ctx.fillStyle = '#000';
    ctx.font = '20px ' + FONT;
    ctx.textBaseline = 'middle';
    ctx.fillText('w/o error', 291.6, 279.5);
    ctx.fillText('w/ error', 291.6, 305);
    ctx.fillText('w/ error RMS', 291.6, 331.5);
    ctx.restore();
  }
};

new Chart(document.getElementById('top'), {
  type: 'scatter',
  data: {
    datasets: [
      { label: 'w/ error RMS', data: xy(rmsX, rmsY), showLine: true, borderColor: MAG, borderWidth: 2.5,
        pointRadius: 4.3, pointBorderWidth: 1.5, pointBorderColor: MAG,
        pointBackgroundColor: rmsY.map(v => v === 0 ? '#ffffff' : MAG), clip: false, order: 0 },
      { label: 'w/o error', data: xy(daX, daY), showLine: true, borderColor: '#000', borderWidth: 3,
        borderJoinStyle: 'round', pointRadius: 0, clip: false, order: 1 },
      { label: 'w/ error', data: pairs(errPts, 1), pointStyle: 'cross', pointRadius: 5,
        pointBorderColor: CYAN, pointBorderWidth: 1, clip: false, order: 2 }
    ]
  },
  options: {
    responsive: false, animation: false, events: [],
    layout: { padding: { top: 6, right: 0, left: 0, bottom: 0 } },
    plugins: { legend: { display: false }, tooltip: { enabled: false } },
    scales: {
      x: {
        type: 'linear', min: -25, max: 25,
        afterBuildTicks: s => { s.ticks = xTicksTop.map(v => ({ value: v })); },
        afterFit: s => { s.height = 83; noPad(s); },
        ticks: { font: { family: FONT, size: 21 }, color: AXIS, padding: 10, maxRotation: 0, autoSkip: false, callback: v => String(v) },
        grid: { color: GRID, drawTicks: false }, border: { color: AXIS }
      },
      y: {
        type: 'linear', min: 0, max: 110,
        afterBuildTicks: s => { s.ticks = yTicksTop.map(v => ({ value: v })); },
        afterFit: s => { s.width = 89.3; noPad(s); },
        ticks: { font: { family: FONT, size: 21 }, color: AXIS, padding: 7, autoSkip: false, callback: v => String(v) },
        grid: { color: GRID, drawTicks: false }, border: { color: AXIS }
      }
    }
  },
  plugins: [topDecor]
});

// ---------- lower chart ----------
const botDecor = {
  id: 'botDecor',
  beforeDraw(chart) {
    // faint watermark between the two panels
    const ctx = chart.ctx;
    ctx.save();
    ctx.translate(0, -BOT_TOP);
    ctx.fillStyle = '#dcdcdc';
    const shapes = [
      [[118,492],[121,482],[150,476],[250,479],[244,492]],
      [[355,492],[345,484],[330,476],[350,471],[440,471],[480,478],[484,484],[462,486],[452,481],[425,478],[402,484],[395,492]]
    ];
    shapes.forEach(sh => {
      ctx.beginPath();
      sh.forEach((p, i) => i ? ctx.lineTo(p[0], p[1]) : ctx.moveTo(p[0], p[1]));
      ctx.closePath(); ctx.fill();
    });
    ctx.restore();
  },
  afterDraw(chart) {
    const ctx = chart.ctx;
    ctx.save();
    frame(chart);
    ctx.translate(0, -BOT_TOP);

    ctx.fillStyle = AXIS;
    ctx.font = '22.5px ' + FONT;
    ctx.textAlign = 'center';
    ctx.textBaseline = 'alphabetic';
    ctx.fillText('s [m]', 329, 792);
    ctx.save();
    ctx.translate(31, 616);
    ctx.rotate(-Math.PI / 2);
    ctx.fillText('momentum aperture [%]', 0, 0);
    ctx.restore();

    // legend
    ctx.fillStyle = '#fff';
    ctx.fillRect(177.5, 603.5, 287, 27);
    ctx.strokeStyle = AXIS; ctx.lineWidth = 1;
    ctx.strokeRect(177.5, 603.5, 287, 27);
    ctx.strokeStyle = '#000'; ctx.lineWidth = 2.5;
    seg(ctx, 180.7, 617.5, 204, 617.5);
    ctx.strokeStyle = MAG; ctx.lineWidth = 1.2;
    seg(ctx, 258, 617.5, 283, 617.5);
    ctx.strokeStyle = CYAN; ctx.lineWidth = 2.5;
    seg(ctx, 361.7, 617.5, 386, 617.5);
    ctx.fillStyle = '#000';
    ctx.font = '20.5px ' + FONT;
    ctx.textAlign = 'left';
    ctx.textBaseline = 'middle';
    ctx.fillText('ideal', 207.5, 617.5);
    ctx.fillText('w/ error', 284.5, 617.5);
    ctx.fillText('average', 388, 617.5);
    ctx.restore();
  }
};

const bandFill = 'rgba(255,0,255,0.6)';

new Chart(document.getElementById('bot'), {
  type: 'line',
  data: {
    datasets: [
      { label: 'average', data: pairs(avgPos, 1), borderColor: CYAN, borderWidth: 2, pointRadius: 0, order: 0 },
      { label: 'average-', data: pairs(avgNeg, 1), borderColor: CYAN, borderWidth: 2, pointRadius: 0, order: 0 },
      { label: 'ideal', data: pairs(idealPos, 1), borderColor: '#000', borderWidth: 2.5, pointRadius: 0, order: 1 },
      { label: 'ideal-', data: pairs(idealNeg, 1), borderColor: '#000', borderWidth: 2.5, pointRadius: 0, order: 1 },
      { label: 'w/ error', data: pairs(errPos, 1), borderColor: MAG, borderWidth: 0.7, pointRadius: 0, fill: '+1', backgroundColor: bandFill, order: 2 },
      { label: 'w/ error lo', data: pairs(errPos, 2), borderColor: MAG, borderWidth: 0.7, pointRadius: 0, order: 2 },
      { label: 'w/ error-', data: pairs(errNeg, 1), borderColor: MAG, borderWidth: 0.7, pointRadius: 0, fill: '+1', backgroundColor: bandFill, order: 2 },
      { label: 'w/ error lo-', data: pairs(errNeg, 2), borderColor: MAG, borderWidth: 0.7, pointRadius: 0, order: 2 }
    ]
  },
  options: {
    responsive: false, animation: false, events: [],
    layout: { padding: { top: 51.7, right: 0.7, left: 0, bottom: 0 } },
    plugins: { legend: { display: false }, tooltip: { enabled: false } },
    scales: {
      x: {
        type: 'linear', min: 0, max: 851,
        afterBuildTicks: s => { s.ticks = sTicks.map(v => ({ value: v })); },
        afterFit: s => { s.height = 64.3; noPad(s); },
        ticks: { font: { family: FONT, size: 21 }, color: AXIS, padding: 9, maxRotation: 0, autoSkip: false, callback: v => String(v) },
        grid: { color: GRID, drawTicks: false }, border: { color: AXIS }
      },
      y: {
        type: 'linear', min: -1.7, max: 1.8,
        afterBuildTicks: s => { s.ticks = maTicks.map(v => ({ value: v })); },
        afterFit: s => { s.width = 77.3; noPad(s); },
        ticks: { font: { family: FONT, size: 21 }, color: AXIS, padding: 6, autoSkip: false, callback: v => String(v) },
        grid: { color: GRID, drawTicks: false }, border: { color: AXIS }
      }
    }
  },
  plugins: [botDecor]
});
</script>
</body>
</html>
